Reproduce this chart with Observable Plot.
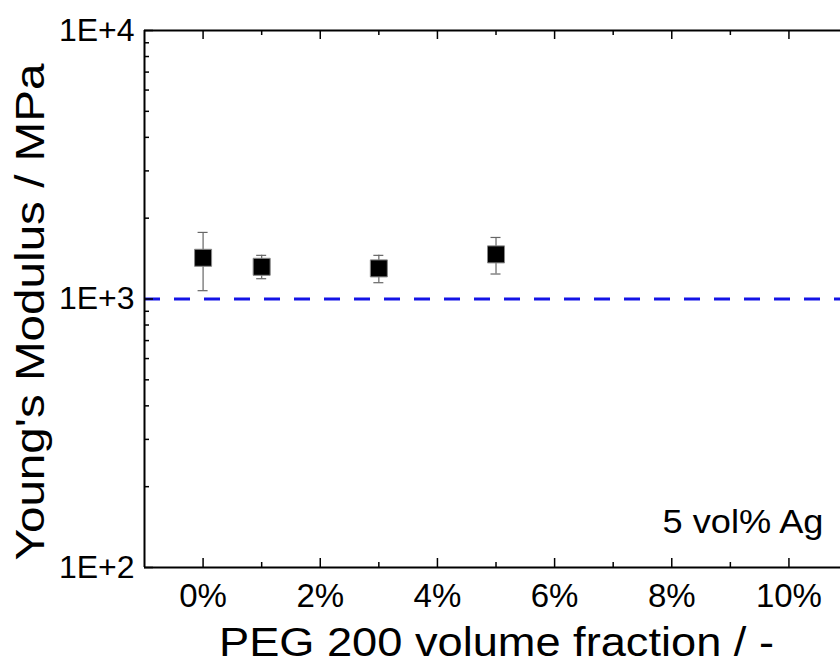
<!DOCTYPE html>
<html><head><meta charset="utf-8">
<script src="https://cdn.jsdelivr.net/npm/d3@7"></script>
<script src="https://cdn.jsdelivr.net/npm/@observablehq/plot@0.6"></script>
<style>
body{margin:0;background:#fff;overflow:hidden}
#chart svg{display:block}
</style></head><body><div id="chart"></div>
<script>
const pegFraction = [0, 1, 3, 5];
const modulus = [1424, 1318, 1300, 1466];
const errLow = [1074, 1190, 1150, 1239];
const errHigh = [1770, 1454, 1454, 1695];
const referenceModulus = [1000];
const xDomain = [-1, 10.88];
const yDomain = [100, 10000];
const xMajorTicks = [0, 2, 4, 6, 8, 10];
const xMinorTicks = [1, 3, 5, 7, 9];
const yMajorTicks = [100, 1000, 10000];
const yMinorTicks = [200, 300, 400, 500, 600, 700, 800, 900, 2000, 3000, 4000, 5000, 6000, 7000, 8000, 9000];
const xLabel = "PEG 200 volume fraction / -";
const yLabel = "Young's Modulus / MPa";
const annotation = "5 vol% Ag";

const data = pegFraction.map((x, i) => ({x, y: modulus[i], lo: errLow[i], hi: errHigh[i]}));

const W = 840, H = 662, mL = 144, mR = 0, mT = 30, mB = 95;
const plotH = H - mT - mB, plotW = W - mL - mR;
const major = 9, minor = 5;

const chart = Plot.plot({
  width: W, height: H,
  marginLeft: mL, marginRight: mR, marginTop: mT, marginBottom: mB,
  style: {fontFamily: "'Liberation Sans', Arial, sans-serif", background: "#fff", color: "#000", overflow: "hidden"},
  x: {type: "linear", domain: xDomain},
  y: {type: "log", domain: yDomain},
  marks: [
    Plot.ruleY(referenceModulus, {stroke: "#1414e6", strokeWidth: 3, strokeDasharray: "16,14"}),
    Plot.ruleX(data, {x: "x", y1: "lo", y2: "hi", stroke: "#666", strokeWidth: 1.2}),
    Plot.ruleY(data, {y: "lo", x1: "x", x2: "x", insetLeft: -5, insetRight: -5, stroke: "#666", strokeWidth: 1.2}),
    Plot.ruleY(data, {y: "hi", x1: "x", x2: "x", insetLeft: -5, insetRight: -5, stroke: "#666", strokeWidth: 1.2}),
    Plot.dot(data, {x: "x", y: "y", symbol: "square", r: 9.6, fill: "#000", stroke: "#888", strokeWidth: 1}),
    // frame lines
    Plot.ruleY(yDomain, {stroke: "#000", strokeWidth: 2}),
    Plot.ruleX([xDomain[0]], {stroke: "#000", strokeWidth: 2}),
    // bottom ticks (inward)
    Plot.ruleX(xMajorTicks, {stroke: "#000", strokeWidth: 1.5, insetTop: plotH - major}),
    Plot.ruleX(xMinorTicks, {stroke: "#000", strokeWidth: 1.5, insetTop: plotH - minor}),
    // top ticks (inward)
    Plot.ruleX(xMajorTicks, {stroke: "#000", strokeWidth: 1.5, insetBottom: plotH - major}),
    Plot.ruleX(xMinorTicks, {stroke: "#000", strokeWidth: 1.5, insetBottom: plotH - minor}),
    // left ticks (inward)
    Plot.ruleY(yMajorTicks, {stroke: "#000", strokeWidth: 1.5, insetRight: plotW - major}),
    Plot.ruleY(yMinorTicks, {stroke: "#000", strokeWidth: 1.5, insetRight: plotW - minor}),
    Plot.axisX(xMajorTicks, {tickSize: 0, tickPadding: 16, tickFormat: d => d + "%", fontSize: 33, label: null}),
    Plot.axisY(yMajorTicks, {tickSize: 0, tickPadding: 10, tickFormat: d => "1E+" + Math.round(Math.log10(d)), fontSize: 32, label: null}),
    Plot.text([xLabel], {text: d => d, frameAnchor: "bottom", textAnchor: "middle", lineAnchor: "bottom", dx: 4, dy: 88, fontSize: 40, fill: "#000"}),
    Plot.text([yLabel], {text: d => d, frameAnchor: "left", rotate: -90, textAnchor: "middle", lineAnchor: "bottom", dx: -101, dy: 13, fontSize: 41, fill: "#000"}),
    Plot.text([annotation], {text: d => d, frameAnchor: "bottom-right", textAnchor: "end", lineAnchor: "bottom", dx: -17, dy: -35, fontSize: 33, fill: "#000"})
  ]
});

// stretch the titles to the wider glyphs of the reference
const lengths = new Map([[xLabel, 555], [yLabel, 497], [annotation, 161]]);
d3.select(chart).selectAll("text").each(function() {
  const t = this.textContent;
  if (lengths.has(t)) {
    this.setAttribute("textLength", lengths.get(t));
    this.setAttribute("lengthAdjust", "spacingAndGlyphs");
  }
});
document.getElementById("chart").appendChild(chart);
</script></body></html>
